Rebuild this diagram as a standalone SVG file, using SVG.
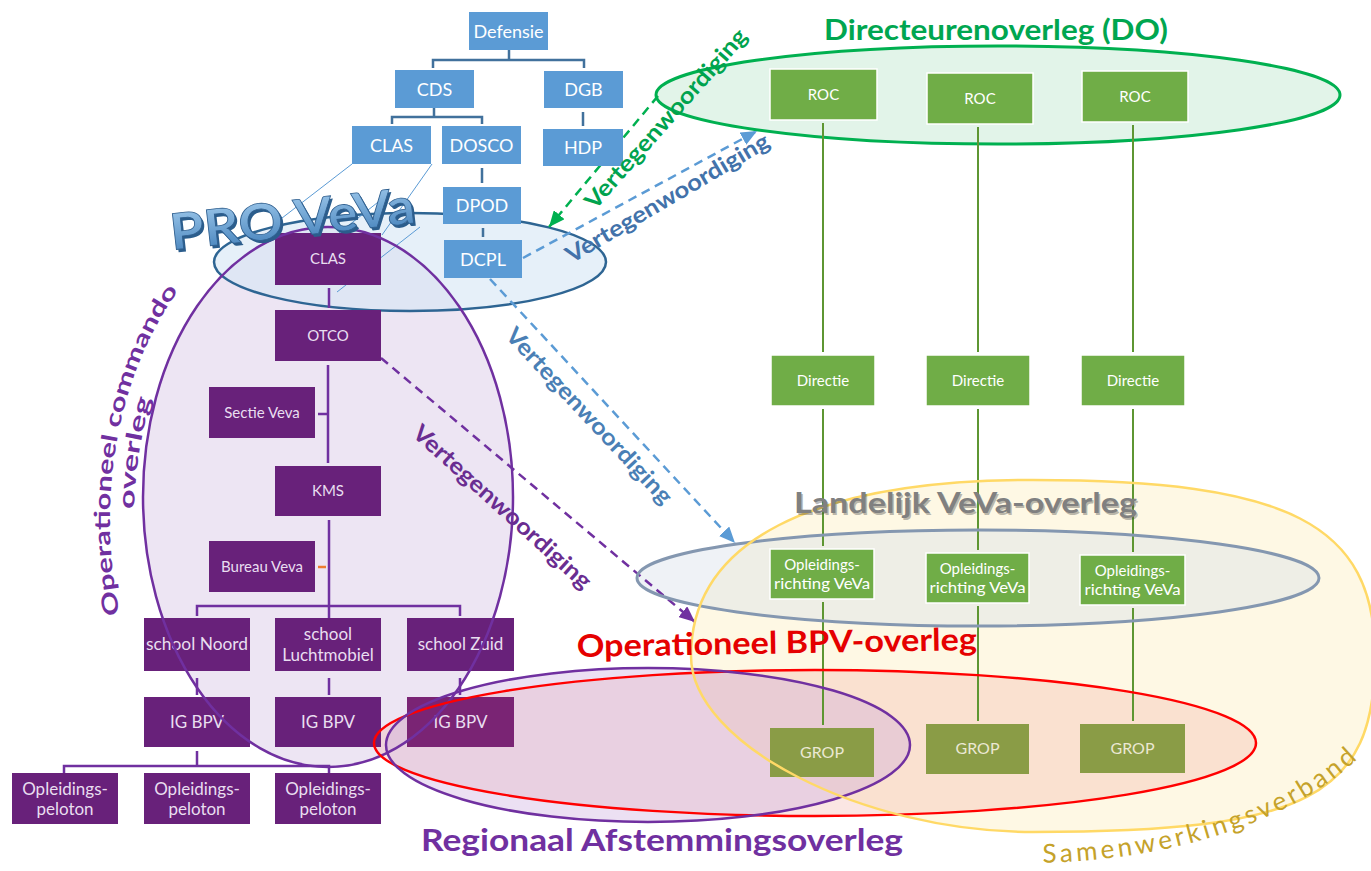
<svg xmlns="http://www.w3.org/2000/svg" width="1371" height="871" viewBox="0 0 1371 871">
<defs>
<style>
text{font-family:Lato,"Liberation Sans",sans-serif}
.bb{fill:#5b9bd5}
.bt{fill:#ffffff;font-size:18px;text-anchor:middle}
.pb{fill:#68217a}
.pt{fill:#e9def0;font-size:15px;text-anchor:middle}
.pt2{fill:#e9def0;font-size:17px;text-anchor:middle}
.gb{fill:#70ad47;stroke:#ffffff;stroke-width:1.5}
.grop{fill:#8a9c46}
.gt{fill:#ffffff;font-size:15px;text-anchor:middle}
.grt{fill:#ebe8d3;font-size:16px;text-anchor:middle}
.bl{fill:none;stroke:#41719c;stroke-width:2.5}
.pl{fill:none;stroke:#7030a0;stroke-width:2.5}
.gl{fill:none;stroke:#5e9632;stroke-width:2}
.thin{fill:none;stroke:#5b9bd5;stroke-width:1}
.dash{fill:none;stroke-width:2.5;stroke-dasharray:9 6}
.vt{font-weight:bold;font-size:23px;text-anchor:middle;dominant-baseline:central}
</style>
<marker id="ag" markerUnits="userSpaceOnUse" markerWidth="18" markerHeight="14" refX="16" refY="7" orient="auto"><path d="M0,0 L16,7 L0,14 z" fill="#00b050"/></marker>
<marker id="ab" markerUnits="userSpaceOnUse" markerWidth="18" markerHeight="14" refX="16" refY="7" orient="auto"><path d="M0,0 L16,7 L0,14 z" fill="#5b9bd5"/></marker>
<marker id="ap" markerUnits="userSpaceOnUse" markerWidth="18" markerHeight="14" refX="16" refY="7" orient="auto"><path d="M0,0 L16,7 L0,14 z" fill="#7030a0"/></marker>
<linearGradient id="pv" x1="0" y1="0" x2="0" y2="1"><stop offset="0" stop-color="#a6cff0"/><stop offset="1" stop-color="#3f7db8"/></linearGradient>
<path id="swv" d="M 997 862 A 378 207 0 0 0 1402 620"/>
<path id="oc1" d="M 123.1 627.7 A 218 315 0 0 1 219 247.2"/>
<path id="oc2" d="M 145.7 620.2 A 194 293 0 0 1 231 266.3"/>
<path id="yel" d="M1375 656 C1375 797 1307 832 1033 832 C862 832 691 744 691 656 C691 542 811 480 1033 480 C1289 480 1375 524 1375 656 Z"/>
</defs>

<g id="areas-fill">
<ellipse cx="328" cy="497" rx="185" ry="270" fill="#ede5f3"/>
<ellipse cx="410" cy="262" rx="196" ry="49" fill="#d6e6f5" fill-opacity="0.6" stroke="#2e6593" stroke-width="2.5"/>
<ellipse cx="998" cy="95" rx="342" ry="49" fill="#e2f4e9" stroke="#00b050" stroke-width="3"/>
<use href="#yel" fill="#fef8e4"/>
<ellipse cx="815" cy="743" rx="441" ry="73" fill="#f2b0a8" fill-opacity="0.32"/>
<ellipse cx="648" cy="745" rx="262" ry="77" fill="#c9a6dc" fill-opacity="0.35"/>
<ellipse cx="978" cy="578" rx="341" ry="48" fill="#d6dee9" fill-opacity="0.4"/>
</g>

<g id="connectors">
<path class="bl" d="M509 50V60 M433 68V60H584V68 M434 108V117 M392 124V117H482V124 M583 112V126 M482 168V183 M483 228V237"/>
<path class="pl" d="M329 288V308 M328 365V463 M318 414H328 M329 520V618 M197 616V606H460V616 M197 678V695 M329 678V695 M460 678V695 M197 751V766 M64 773V766H329V773"/>
<path d="M318 567H326" stroke="#ed7d31" stroke-width="2.5"/>
<path class="gl" d="M823 123V352 M823 409V546 M823 602V725 M978 127V352 M978 409V550 M978 606V721 M1133 125V352 M1133 409V552 M1133 608V721"/>
<path class="thin" d="M352 164L273 225 M432 164L382 235 M387 195L305 260 M420 227L337 292"/>
<path class="dash" stroke="#00b050" d="M658 96L549 227" marker-end="url(#ag)"/>
<path class="dash" stroke="#5b9bd5" d="M523 258L757 131" marker-end="url(#ab)"/>
<path class="dash" stroke="#5b9bd5" d="M490 279L735 543" marker-end="url(#ab)"/>
<path class="dash" stroke="#7030a0" d="M381 358L695 622" marker-end="url(#ap)"/>
</g>

<g id="n-defensie"><rect class="bb" x="469" y="12" width="79" height="38"/><text class="bt" x="508.5" y="37.5">Defensie</text></g>
<g id="n-cds"><rect class="bb" x="395" y="70" width="79" height="38"/><text class="bt" x="434.5" y="95.5">CDS</text></g>
<g id="n-dgb"><rect class="bb" x="544" y="71" width="79" height="37"/><text class="bt" x="583.5" y="96">DGB</text></g>
<g id="n-clas-b"><rect class="bb" x="352" y="126" width="79" height="38"/><text class="bt" x="391.5" y="151.5">CLAS</text></g>
<g id="n-dosco"><rect class="bb" x="442" y="126" width="79" height="38"/><text class="bt" x="481.5" y="151.5">DOSCO</text></g>
<g id="n-hdp"><rect class="bb" x="543" y="129" width="80" height="37"/><text class="bt" x="583" y="154">HDP</text></g>
<g id="n-dpod"><rect class="bb" x="443" y="187" width="78" height="37"/><text class="bt" x="482" y="212">DPOD</text></g>
<g id="n-dcpl"><rect class="bb" x="444" y="240" width="78" height="38"/><text class="bt" x="483" y="265.5">DCPL</text></g>

<g id="n-clas-p"><rect class="pb" x="275" y="233" width="106" height="52"/><text class="pt" x="328" y="264">CLAS</text></g>
<g id="n-otco"><rect class="pb" x="275" y="310" width="106" height="51"/><text class="pt" x="328" y="341">OTCO</text></g>
<g id="n-sectie"><rect class="pb" x="209" y="387" width="106" height="51"/><text class="pt" x="262" y="418">Sectie Veva</text></g>
<g id="n-kms"><rect class="pb" x="275" y="466" width="106" height="50"/><text class="pt" x="328" y="496">KMS</text></g>
<g id="n-bureau"><rect class="pb" x="209" y="541" width="106" height="51"/><text class="pt" x="262" y="572">Bureau Veva</text></g>
<g id="n-school-noord"><rect class="pb" x="144" y="618" width="106" height="53"/><text class="pt2" x="197" y="650" textLength="102" lengthAdjust="spacingAndGlyphs">school Noord</text></g>
<g id="n-school-lm"><rect class="pb" x="275" y="618" width="106" height="53"/><text class="pt2" x="328" y="640">school</text><text class="pt2" x="328" y="661">Luchtmobiel</text></g>
<g id="n-school-zuid"><rect class="pb" x="407" y="618" width="107" height="53"/><text class="pt2" x="460.5" y="650">school Zuid</text></g>
<g id="n-igbpv1"><rect class="pb" x="144" y="697" width="106" height="50"/><text class="pt2" x="197" y="728">IG BPV</text></g>
<g id="n-igbpv2"><rect class="pb" x="275" y="697" width="106" height="50"/><text class="pt2" x="328" y="728">IG BPV</text></g>
<g id="n-igbpv3"><rect x="407" y="697" width="107" height="50" fill="#7a2474"/><text class="pt2" x="460.5" y="728" fill="#ead6e6">IG BPV</text></g>
<g id="n-pel1"><rect class="pb" x="12" y="773" width="106" height="51"/><text class="pt2" x="65" y="795">Opleidings-</text><text class="pt2" x="65" y="815">peloton</text></g>
<g id="n-pel2"><rect class="pb" x="144" y="773" width="106" height="51"/><text class="pt2" x="197" y="795">Opleidings-</text><text class="pt2" x="197" y="815">peloton</text></g>
<g id="n-pel3"><rect class="pb" x="275" y="773" width="106" height="51"/><text class="pt2" x="328" y="795">Opleidings-</text><text class="pt2" x="328" y="815">peloton</text></g>

<g id="n-roc1"><rect class="gb" x="770" y="69" width="107" height="51"/><text class="gt" x="823.5" y="100">ROC</text></g>
<g id="n-roc2"><rect class="gb" x="927" y="73" width="106" height="51"/><text class="gt" x="980" y="104">ROC</text></g>
<g id="n-roc3"><rect class="gb" x="1082" y="71" width="106" height="51"/><text class="gt" x="1135" y="102">ROC</text></g>
<g id="n-dir1"><rect class="gb" x="771" y="355" width="104" height="51"/><text class="gt" x="823" y="386">Directie</text></g>
<g id="n-dir2"><rect class="gb" x="926" y="355" width="104" height="51"/><text class="gt" x="978" y="386">Directie</text></g>
<g id="n-dir3"><rect class="gb" x="1081" y="355" width="104" height="51"/><text class="gt" x="1133" y="386">Directie</text></g>
<g id="n-opl1"><rect class="gb" x="770" y="549" width="104" height="50"/><text class="gt" x="822" y="570">Opleidings-</text><text class="gt" x="822" y="589" textLength="96" lengthAdjust="spacingAndGlyphs">richting VeVa</text></g>
<g id="n-opl2"><rect class="gb" x="926" y="553" width="103" height="50"/><text class="gt" x="977.5" y="574">Opleidings-</text><text class="gt" x="977.5" y="593" textLength="96" lengthAdjust="spacingAndGlyphs">richting VeVa</text></g>
<g id="n-opl3"><rect class="gb" x="1080" y="555" width="105" height="50"/><text class="gt" x="1132.5" y="576">Opleidings-</text><text class="gt" x="1132.5" y="595" textLength="96" lengthAdjust="spacingAndGlyphs">richting VeVa</text></g>
<g id="n-grop1"><rect class="grop" x="770" y="728" width="104" height="49"/><text class="grt" x="822" y="758">GROP</text></g>
<g id="n-grop2"><rect class="grop" x="926" y="724" width="103" height="50"/><text class="grt" x="977.5" y="754">GROP</text></g>
<g id="n-grop3"><rect class="grop" x="1080" y="724" width="105" height="49"/><text class="grt" x="1132.5" y="754">GROP</text></g>

<g id="areas-stroke" fill="none" stroke-width="2.5">
<ellipse cx="328" cy="497" rx="185" ry="270" stroke="#7030a0"/>
<ellipse cx="815" cy="743" rx="441" ry="73" stroke="#ff0000"/>
<ellipse cx="648" cy="745" rx="262" ry="77" stroke="#7030a0"/>
<ellipse cx="978" cy="578" rx="341" ry="48" stroke="#8497b0" stroke-width="3"/>
<use href="#yel" stroke="#ffd966"/>
</g>

<g id="labels">
<g transform="rotate(-6.4 172 250)">
<text x="174" y="253" font-family="'Liberation Sans',sans-serif" font-weight="bold" font-size="50" fill="#2b5d8c" textLength="246" lengthAdjust="spacingAndGlyphs">PRO VeVa</text>
<text x="172" y="250" font-family="'Liberation Sans',sans-serif" font-weight="bold" font-size="50" fill="url(#pv)" stroke="#2f5f8f" stroke-width="0.8" textLength="246" lengthAdjust="spacingAndGlyphs">PRO VeVa</text>
</g>
<text x="824" y="40" font-size="29" font-weight="bold" fill="#00a650" textLength="344" lengthAdjust="spacingAndGlyphs">Directeurenoverleg (DO)</text>
<text x="795.5" y="514.5" font-size="29" font-weight="bold" fill="#3a3a3a" fill-opacity="0.35" textLength="343" lengthAdjust="spacingAndGlyphs">Landelijk VeVa-overleg</text>
<text x="794" y="513" font-size="29" font-weight="bold" fill="#808080" textLength="343" lengthAdjust="spacingAndGlyphs">Landelijk VeVa-overleg</text>
<text x="577" y="657" font-size="31" font-weight="bold" fill="#e50000" textLength="400" lengthAdjust="spacingAndGlyphs" transform="rotate(-1 577 657)">Operationeel BPV-overleg</text>
<text x="421" y="851" font-size="30" font-weight="bold" fill="#7030a0" textLength="482" lengthAdjust="spacingAndGlyphs">Regionaal Afstemmingsoverleg</text>
<text font-size="26" fill="#c5a22a" letter-spacing="3.5"><textPath href="#swv" startOffset="46">Samenwerkingsverband</textPath></text>
<text font-size="22" font-weight="bold" fill="#7030a0" textLength="338" lengthAdjust="spacingAndGlyphs"><textPath href="#oc1" startOffset="14">Operationeel commando</textPath></text>
<text font-size="22" font-weight="bold" fill="#7030a0" textLength="112" lengthAdjust="spacingAndGlyphs"><textPath href="#oc2" startOffset="112">overleg</textPath></text>
<text class="vt" fill="#00a34e" textLength="232" lengthAdjust="spacingAndGlyphs" transform="translate(665 118) rotate(-48.5)">Vertegenwoordiging</text>
<text class="vt" fill="#4272aa" textLength="232" lengthAdjust="spacingAndGlyphs" transform="translate(667 197) rotate(-30.5)">Vertegenwoordiging</text>
<text class="vt" fill="#4a7fb5" textLength="232" lengthAdjust="spacingAndGlyphs" transform="translate(590 415) rotate(46.9)">Vertegenwoordiging</text>
<text class="vt" fill="#6a2d91" textLength="232" lengthAdjust="spacingAndGlyphs" transform="translate(503 506) rotate(42.1)">Vertegenwoordiging</text>
</g>
</svg>
